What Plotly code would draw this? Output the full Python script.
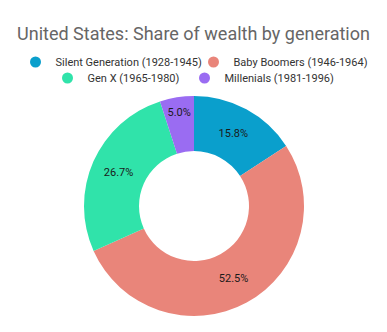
import plotly.graph_objects as go

categories = ["Silent Generation (1928-1945)", "Baby Boomers (1946-1964)",
              "Gen X (1965-1980)", "Millenials (1981-1996)"]
shares = [15.8, 52.5, 26.7, 5.0]
colors = ["#0a9fcc", "#e9857a", "#30e3aa", "#9a6cf2"]

W, H = 387, 332
cx, cy, r = 194, 206, 110

fig = go.Figure()
fig.add_trace(go.Pie(
    labels=categories, values=shares, hole=0.5, sort=False,
    direction="clockwise", rotation=0,
    marker=dict(colors=colors, line=dict(width=0)),
    texttemplate="%{value:.1f}%", textposition="inside",
    insidetextorientation="horizontal",
    textfont=dict(family="Roboto", size=11, color="#1a1a1a"),
    showlegend=False, hoverinfo="label+percent",
    domain=dict(x=[(cx - r) / W, (cx + r) / W], y=[1 - (cy + r) / H, 1 - (cy - r) / H]),
))

for i, (name, col) in enumerate(zip(categories, colors)):
    fig.add_trace(go.Scatter(
        x=[None], y=[None], mode="markers", name=name,
        marker=dict(symbol="circle", size=11, color=col),
        legend="legend" if i < 2 else "legend2",
    ))

legend_common = dict(orientation="h", xanchor="center", x=0.5, yanchor="middle",
                     font=dict(family="Roboto", size=11, color="#333333"),
                     itemwidth=30, tracegroupgap=0, bgcolor="rgba(0,0,0,0)")
fig.update_layout(
    width=W, height=H, margin=dict(l=0, r=0, t=0, b=0),
    paper_bgcolor="white", plot_bgcolor="white",
    title=dict(text="United States: Share of wealth by generation", x=0.5, xanchor="center",
               y=1 - 34 / H, yanchor="middle",
               font=dict(family="Roboto", size=18, color="#666666")),
    legend=dict(y=1 - 62 / H, entrywidth=133, **legend_common),
    legend2=dict(y=1 - 78 / H, **legend_common),
    xaxis=dict(visible=False), yaxis=dict(visible=False),
)
fig.write_html("out.html")
